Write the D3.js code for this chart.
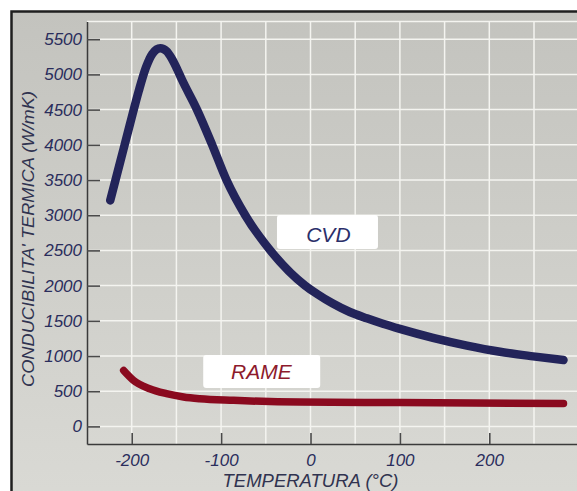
<!DOCTYPE html>
<html>
<head>
<meta charset="utf-8">
<script src="https://d3js.org/d3.v7.min.js"></script>
<style>
  body { margin: 0; background: #ffffff; }
  text { font-family: "Liberation Sans", Arial, sans-serif; font-style: italic; }
</style>
</head>
<body>
<div id="chart"></div>
<script>
// Data: temperature (°C) vs thermal conductivity (W/mK)
var cvdTemp = [-224, -213, -202, -192, -184, -177, -168, -161, -155, -149, -144, -127, -110, -94, -73, -45, -6, 7, 25, 44, 63, 81, 100, 137, 175, 212, 249, 283];
var cvdValue = [3210, 3750, 4290, 4770, 5100, 5290, 5370, 5330, 5220, 5070, 4930, 4500, 4000, 3500, 3000, 2500, 2000, 1885, 1745, 1625, 1535, 1458, 1385, 1258, 1148, 1060, 995, 942];

var rameTemp = [-209, -198, -180, -161, -142, -124, -86, -12, 100, 283];
var rameValue = [795, 655, 535, 465, 418, 393, 370, 345, 338, 325];

var xTicks = [-200, -100, 0, 100, 200];
var yTicks = [0, 500, 1000, 1500, 2000, 2500, 3000, 3500, 4000, 4500, 5000, 5500];
var xGrid = [-200, -150, -100, -50, 0, 50, 100, 150, 200, 250, 300];
var yGrid = [0, 500, 1000, 1500, 2000, 2500, 3000, 3500, 4000, 4500, 5000, 5500, 5750];

var seriesNames = ["CVD", "RAME"];
var xTitle = "TEMPERATURA (°C)";
var yTitle = "CONDUCIBILITA' TERMICA (W/mK)";

//SVG area
var svgWidth = 577;
var svgHeight = 491;

var svg = d3.select("#chart")
  .append("svg")
  .attr("width", svgWidth)
  .attr("height", svgHeight);

// background gradient for the frame
var defs = svg.append("defs");
var grad = defs.append("linearGradient")
  .attr("id", "bg")
  .attr("x1", 0).attr("y1", 0).attr("x2", 0).attr("y2", 1);
grad.append("stop").attr("offset", "0%").attr("stop-color", "#c3c3be");
grad.append("stop").attr("offset", "100%").attr("stop-color", "#dbdbd6");

svg.append("rect")
  .attr("x", 11.5)
  .attr("y", 11.5)
  .attr("width", 620)
  .attr("height", 520)
  .attr("fill", "url(#bg)")
  .attr("stroke", "#1f1f1f")
  .attr("stroke-width", 2.5);

// scales
var xScale = d3.scaleLinear().domain([-250, 300]).range([87, 578.7]);
var yScale = d3.scaleLinear().domain([-250, 5750]).range([444, 21.6]);

// grid
svg.append("g").selectAll("line")
  .data(xGrid)
  .enter()
  .append("line")
  .attr("x1", d => xScale(d)).attr("x2", d => xScale(d))
  .attr("y1", yScale(5750)).attr("y2", yScale(-250))
  .attr("stroke", "#f4f4f0")
  .attr("stroke-width", 1.5);

svg.append("g").selectAll("line")
  .data(yGrid)
  .enter()
  .append("line")
  .attr("x1", xScale(-250)).attr("x2", svgWidth)
  .attr("y1", d => yScale(d)).attr("y2", d => yScale(d))
  .attr("stroke", "#f4f4f0")
  .attr("stroke-width", 1.5);

// axes
var leftAxis = d3.axisLeft(yScale)
  .tickValues(yTicks)
  .tickSizeInner(-13)
  .tickSizeOuter(0)
  .tickPadding(5)
  .tickFormat(d => String(d));

var bottomAxis = d3.axisBottom(xScale)
  .tickValues(xTicks)
  .tickSizeInner(-11)
  .tickSizeOuter(0)
  .tickPadding(10)
  .tickFormat(d => String(d));

var gLeft = svg.append("g")
  .attr("transform", `translate(${xScale(-250)}, 0)`)
  .call(leftAxis);

var gBottom = svg.append("g")
  .attr("transform", `translate(0, ${yScale(-250)})`)
  .call(bottomAxis);

[gLeft, gBottom].forEach(function(g) {
  g.select(".domain").attr("stroke", "#3a3a3a").attr("stroke-width", 1.5);
  g.selectAll(".tick line").attr("stroke", "#4a4a4a").attr("stroke-width", 1.6);
  g.selectAll(".tick text")
    .attr("fill", "#2a2d5c")
    .style("font-size", "17px");
});

// lines
var line = d3.line()
  .x(d => xScale(d[0]))
  .y(d => yScale(d[1]))
  .curve(d3.curveMonotoneX);

var cvdData = cvdTemp.map((t, i) => [t, cvdValue[i]]);
var rameData = rameTemp.map((t, i) => [t, rameValue[i]]);

svg.append("path")
  .datum(rameData)
  .attr("d", line)
  .attr("fill", "none")
  .attr("stroke", "#8a0a1f")
  .attr("stroke-width", 7.5)
  .attr("stroke-linecap", "round");

svg.append("path")
  .datum(cvdData)
  .attr("d", line)
  .attr("fill", "none")
  .attr("stroke", "#23245a")
  .attr("stroke-width", 8.5)
  .attr("stroke-linecap", "round")
  .attr("stroke-linejoin", "round");

// series labels in white boxes
var labels = [
  { name: seriesNames[0], t: -37.5, v: 3003, w: 101, h: 34, color: "#2b2f6a", tx: 20, ty: 2623 },
  { name: seriesNames[1], t: -120, v: 1014, w: 117, h: 33, color: "#8d1a2c", tx: -55, ty: 669 }
];

labels.forEach(function(l) {
  svg.append("rect")
    .attr("x", xScale(l.t))
    .attr("y", yScale(l.v))
    .attr("width", l.w)
    .attr("height", l.h)
    .attr("rx", 3)
    .attr("fill", "#ffffff");
  svg.append("text")
    .attr("x", xScale(l.tx))
    .attr("y", yScale(l.ty))
    .attr("text-anchor", "middle")
    .attr("fill", l.color)
    .style("font-size", "21px")
    .text(l.name);
});

// axis titles
svg.append("text")
  .attr("x", xScale(0))
  .attr("y", 487)
  .attr("text-anchor", "middle")
  .attr("fill", "#303350")
  .style("font-size", "18.5px")
  .text(xTitle);

svg.append("text")
  .attr("transform", "translate(33.5, 239) rotate(-90)")
  .attr("text-anchor", "middle")
  .attr("fill", "#303350")
  .style("font-size", "17px")
  .attr("textLength", 296)
  .attr("lengthAdjust", "spacingAndGlyphs")
  .text(yTitle);
</script>
</body>
</html>
